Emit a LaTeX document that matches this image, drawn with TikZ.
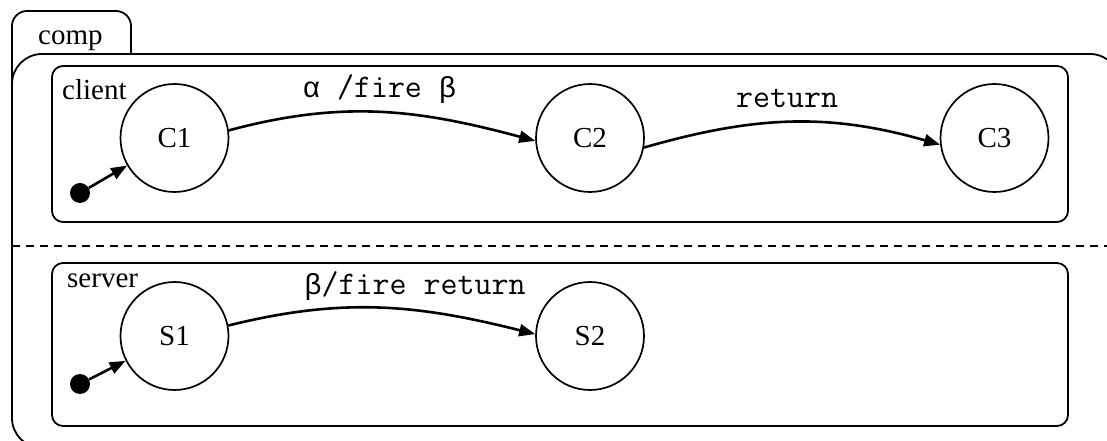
\documentclass[tikz,border=0pt]{standalone}
\usepackage{fontspec}
\setmainfont{Liberation Serif}
\newfontfamily\greekmono{Liberation Mono}
\usetikzlibrary{arrows.meta}

% typewriter text with Greek letters taken from a mono face that has them
\newcommand{\codetext}{\ttfamily\fontsize{33}{38}\selectfont}
\newcommand{\gk}[1]{{\greekmono\fontsize{29}{35}\selectfont #1}}

\begin{document}
\begin{tikzpicture}[x=1pt,y=1pt,
  boxline/.style={line width=1.8pt, rounded corners=#1},
  state/.style={circle, draw, line width=1.7pt, minimum size=108pt, inner sep=0pt,
                font=\fontsize{29}{35}\selectfont},
  initdot/.style={circle, fill, minimum size=20pt, inner sep=0pt},
  trans/.style={line width=2.6pt, -{Triangle[length=16pt,width=12pt]}},
  regionname/.style={font=\fontsize{29}{35}\selectfont, anchor=base west, inner sep=0pt},
  evt/.style={font=\codetext, anchor=base, inner sep=0pt}]

\useasboundingbox (0,0) rectangle (1107,441);
\clip (0,0) rectangle (1107,441);

% composite state: tab and body
\draw[boxline=15pt] (12,357) -- (12,430) -- (131,430) -- (131,387);
\draw[boxline=30pt] (12,-7) rectangle (1120,387);
\node[regionname] (comp) at (38,396) {comp};

% orthogonal regions
\draw[line width=1.8pt, dash pattern=on 8pt off 6pt] (12,195) -- (1107,195);
\draw[boxline=11pt] (52,219) rectangle (1068,375);
\draw[boxline=11pt] (52,15) rectangle (1068,178);
\node[regionname] (client) at (62,341) {client};
\node[regionname] (server) at (67,153) {server};

% client states
\node[state] (C1) at (174.5,303) {C1};
\node[state] (C2) at (590,303) {C2};
\node[state] (C3) at (994.5,303) {C3};
\node[initdot] (Ci) at (80,248) {};

% server states
\node[state] (S1) at (174.5,105) {S1};
\node[state] (S2) at (590,105) {S2};
\node[initdot] (Si) at (80,57) {};

% transitions
\draw[trans] (Ci) -- (C1);
\draw[trans] (Si) -- (S1);
\draw[trans] (C1.8) to[out=15,in=165] (C2.183);
\draw[trans] (C2.350) to[out=16,in=164] (C3.187);
\draw[trans] (S1.11) to[out=14,in=166] (S2.178);

% transition labels
\node[evt] (l1) at (379.5,343) {\gk{α} /fire \gk{β}};
\node[evt] (l2) at (787,333) {return};
\node[evt] (l3) at (415,146) {\gk{β}/fire return};
\end{tikzpicture}
\end{document}
